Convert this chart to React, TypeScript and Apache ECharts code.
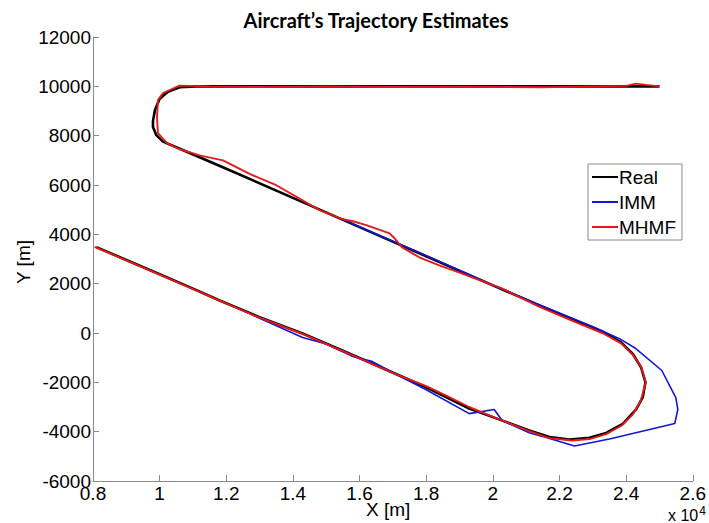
import React, { useEffect, useRef } from "react";
import * as echarts from "echarts";

const xTicks = [8000, 26000, 2000];
const yTicks = [-6000, 12000, 2000];

const realX = [8100, 9000, 10000, 11000, 11800, 13000, 14290, 15500, 16990, 18000, 19290, 20040, 21090, 21700, 22300, 22900, 23400, 23900, 24300, 24500, 24580, 24450, 24200, 23850, 23300, 22500, 21400, 20000, 18000, 16000, 14000, 12000, 10500, 10100, 9900, 9800, 9800, 9860, 10000, 10250, 10600, 11100, 25000];
const realY = [3480, 2960, 2380, 1800, 1320, 640, -20, -720, -1600, -2200, -3060, -3430, -3950, -4220, -4320, -4250, -4050, -3680, -3100, -2600, -2000, -1400, -850, -380, 50, 500, 1120, 1930, 3110, 4290, 5480, 6660, 7530, 7760, 8020, 8350, 8600, 9040, 9500, 9780, 9960, 10000, 10000];

const immX = [12500, 13000, 14290, 15000, 15800, 16390, 16990, 18000, 19290, 20040, 20280, 21090, 21600, 22450, 23500, 25460, 25550, 25490, 25070, 24290, 23800, 23000, 21400, 20000, 17800, 16000, 15500];
const immY = [920, 600, -180, -450, -950, -1160, -1600, -2300, -3270, -3100, -3550, -4040, -4240, -4580, -4300, -3670, -3100, -2620, -1520, -630, -230, 250, 1140, 1950, 3250, 4300, 4610];

const mhmfX = [8050, 9000, 10000, 11000, 11800, 13000, 14290, 15500, 16990, 18000, 18600, 19290, 20040, 21090, 21700, 22380, 22900, 23400, 23870, 24200, 24440, 24590, 24450, 24200, 23850, 23300, 22500, 21400, 20280, 19000, 18390, 17790, 17280, 17050, 16900, 16200, 15800, 15490, 14800, 13500, 12700, 11900, 11200, 10600, 10220, 9950, 9920, 9950, 10100, 10600, 11500, 13000, 15000, 17000, 19000, 21500, 23000, 24000, 24300, 24600, 25000];
const mhmfY = [3490, 2940, 2370, 1780, 1310, 620, -40, -730, -1620, -2150, -2540, -3000, -3420, -3980, -4260, -4360, -4300, -4100, -3750, -3300, -2740, -2000, -1380, -880, -420, -10, 430, 1060, 1800, 2450, 2740, 3070, 3470, 3840, 4040, 4370, 4530, 4610, 4980, 5990, 6450, 7000, 7200, 7450, 7700, 8100, 8750, 9440, 9730, 10030, 10000, 9970, 10000, 9970, 9990, 9960, 10000, 10020, 10110, 10060, 10000];

const legendNames = ["Real", "IMM", "MHMF"];
const colors = ["#000000", "#1515d6", "#e51a1a"];

const pairs = (xs: number[], ys: number[]) => xs.map((x, i) => [x, ys[i]]);

export default function App() {
  const ref = useRef<HTMLDivElement>(null);
  useEffect(() => {
    if (!ref.current) return;
    const chart = echarts.init(ref.current, null, { renderer: "svg" });
    const font = "'Liberation Sans', Arial, sans-serif";
    const axisCommon = {
      axisLine: { show: true, onZero: false, lineStyle: { color: "#8a8a8a", width: 1 } },
      axisTick: { show: true, inside: true, length: 6, lineStyle: { color: "#8a8a8a" } },
      splitLine: { show: false },
    };
    chart.setOption({
      animation: false,
      backgroundColor: "#ffffff",
      grid: { left: 93, right: 15, top: 37, bottom: 42 },
      xAxis: {
        type: "value",
        min: xTicks[0],
        max: xTicks[1],
        interval: xTicks[2],
        ...axisCommon,
        axisLabel: {
          color: "#000",
          fontSize: 19,
          fontFamily: font,
          margin: 3,
          formatter: (v: number) => String(Math.round(v / 1000) / 10),
        },
      },
      yAxis: {
        type: "value",
        min: yTicks[0],
        max: yTicks[1],
        interval: yTicks[2],
        ...axisCommon,
        axisLabel: { color: "#000", fontSize: 19, fontFamily: font, margin: 2, formatter: (v: number) => String(v) },
      },
      legend: {
        orient: "vertical",
        left: 588,
        top: 164,
        data: legendNames,
        icon: "rect",
        itemWidth: 26,
        itemHeight: 2,
        itemGap: 5,
        padding: [3, 6, 3, 4],
        backgroundColor: "#ffffff",
        borderColor: "#8a8a8a",
        borderWidth: 1,
        borderRadius: 0,
        textStyle: { color: "#000", fontSize: 19, fontFamily: font, lineHeight: 20, padding: [0, 0, 0, -4] },
      },
      graphic: [
        {
          type: "text",
          x: 376,
          y: 10,
          style: {
            text: "Aircraft\u2019s Trajectory Estimates",
            fill: "#000",
            textAlign: "center",
            font: "bold 20px Lato, 'Open Sans', sans-serif",
          },
        },
        {
          type: "text",
          x: 366,
          y: 500,
          style: { text: "X [m]", fill: "#000", font: `19px ${font}` },
        },
        {
          type: "text",
          x: 14,
          y: 284,
          rotation: Math.PI / 2,
          style: { text: "Y [m]", fill: "#000", font: `19px ${font}` },
        },
        {
          type: "text",
          x: 668,
          y: 505,
          style: {
            text: "{a|x 10}{b|4}",
            rich: {
              a: { fontSize: 16, fontFamily: font, fill: "#000", verticalAlign: "bottom", lineHeight: 18 },
              b: { fontSize: 12, fontFamily: font, fill: "#000", verticalAlign: "top", lineHeight: 18, padding: [0, 0, 12, 1] },
            },
          },
        },
      ],
      series: [
        { name: "Real", type: "line", data: pairs(realX, realY), showSymbol: false, symbol: "none", lineStyle: { color: colors[0], width: 2.6 }, itemStyle: { color: colors[0] }, z: 2 },
        { name: "IMM", type: "line", data: pairs(immX, immY), showSymbol: false, symbol: "none", lineStyle: { color: colors[1], width: 1.6 }, itemStyle: { color: colors[1] }, z: 3 },
        { name: "MHMF", type: "line", data: pairs(mhmfX, mhmfY), showSymbol: false, symbol: "none", lineStyle: { color: colors[2], width: 1.9 }, itemStyle: { color: colors[2] }, z: 4 },
      ],
    });
    return () => chart.dispose();
  }, []);
  return <div ref={ref} style={{ width: 709, height: 523, position: "absolute", left: 0, top: 0 }} />;
}
